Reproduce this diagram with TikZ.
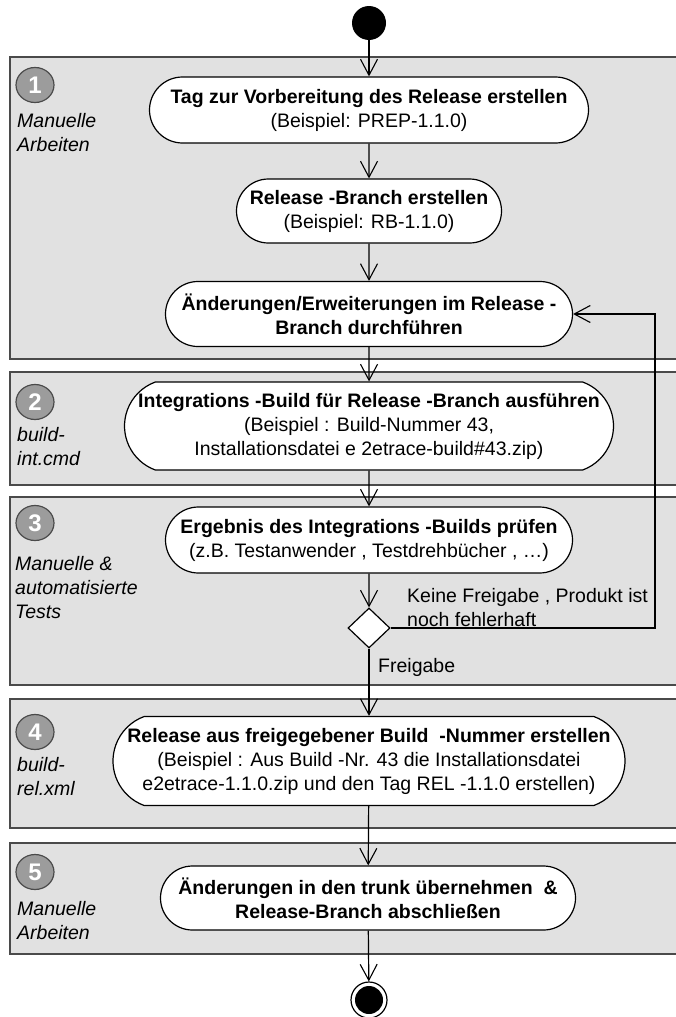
\documentclass[tikz,border=0pt]{standalone}
\usepackage{fontspec}
\setmainfont{Liberation Sans}
\usetikzlibrary{shapes.misc,shapes.geometric,arrows.meta}
\definecolor{lanefill}{HTML}{E1E1E1}
\definecolor{laneline}{HTML}{4A4A4A}
\definecolor{badgefill}{HTML}{9C9C9C}
\newcommand{\fs}{\fontsize{19.5}{24}\selectfont}
\begin{document}
\begin{tikzpicture}[x=1pt,y=-1pt,
  lane/.style={draw=laneline, line width=1.4pt, fill=lanefill},
  act/.style={draw=black, line width=1.2pt, fill=white, shape=rounded rectangle, inner sep=0pt, align=center, font=\fs},
  badge/.style={ellipse, draw=laneline, line width=1.2pt, fill=badgefill, minimum width=38, minimum height=35, inner sep=0pt, text=white, font=\bfseries\fontsize{24}{24}\selectfont},
  lanelabel/.style={anchor=west, align=left, font=\itshape\fs, inner sep=0pt},
  txt/.style={anchor=west, align=left, font=\fs, inner sep=0pt},
  flow/.style={line width=1.2pt, -{Straight Barb[length=16pt,width=17pt,line width=1.1pt]}}]
\useasboundingbox (0,0) rectangle (676,1017);
% lanes
\draw[lane] (10,57) rectangle (690,359);
\draw[lane] (10,372) rectangle (690,485);
\draw[lane] (10,497) rectangle (690,685);
\draw[lane] (10,699) rectangle (690,828);
\draw[lane] (10,843) rectangle (690,954);
% badges
\node[badge] (b1) at (35,85) {1};
\node[badge] (b2) at (35,402) {2};
\node[badge] (b3) at (35,523) {3};
\node[badge] (b4) at (35,732) {4};
\node[badge] (b5) at (35,872) {5};
\node[lanelabel] (l1) at (17,133) {Manuelle\\Arbeiten};
\node[lanelabel] (l2) at (17,447) {build-\\int.cmd};
\node[lanelabel] (l3) at (15,588) {Manuelle \&\\automatisierte\\Tests};
\node[lanelabel] (l4) at (17,777) {build-\\rel.xml};
\node[lanelabel] (l5) at (17,921) {Manuelle\\Arbeiten};
% start / end
\node[circle, fill=black, minimum size=34, inner sep=0pt] (start) at (369,23) {};
\node[circle, draw=black, line width=1.2pt, fill=white, minimum size=36, inner sep=0pt] (endo) at (369,1000) {};
\node[circle, fill=black, minimum size=28, inner sep=0pt] (endi) at (369,1000) {};
% activities
\node[act, minimum width=439, minimum height=66] (n1) at (369,110)
  {\textbf{Tag zur Vorbereitung des Release erstellen}\\(Beispiel: PREP-1.1.0)};
\node[act, minimum width=265, minimum height=64] (n2) at (369,211)
  {\textbf{Release -Branch erstellen}\\(Beispiel: RB-1.1.0)};
\node[act, minimum width=407, minimum height=65] (n3) at (369,314)
  {\textbf{Änderungen/Erweiterungen im Release -}\\\textbf{Branch durchführen}};
\node[act, rounded rectangle arc length=140, minimum width=487, minimum height=88] (n4) at (369,426)
  {\textbf{Integrations -Build für Release -Branch ausführen}\\(Beispiel : Build-Nummer 43,\\Installationsdatei e 2etrace-build\#43.zip)};
\node[act, minimum width=407, minimum height=66] (n5) at (369,540)
  {\textbf{Ergebnis des Integrations -Builds prüfen}\\(z.B. Testanwender , Testdrehbücher , …)};
\node[diamond, draw=black, line width=1.2pt, fill=white, minimum width=42, minimum height=40, inner sep=0pt] (d) at (369,628) {};
\node[act, rounded rectangle arc length=140, minimum width=512, minimum height=89] (n6) at (369,761)
  {\textbf{Release aus freigegebener Build \ -Nummer erstellen}\\(Beispiel : Aus Build -Nr. 43 die Installationsdatei\\e2etrace-1.1.0.zip und den Tag REL -1.1.0 erstellen)};
\node[act, minimum width=415, minimum height=64] (n7) at (368,898)
  {\textbf{Änderungen in den trunk übernehmen \ \&}\\\textbf{Release-Branch abschließen}};
% labels
\node[txt] (k) at (407,608) {Keine Freigabe , Produkt ist\\noch fehlerhaft};
\node[txt] (f) at (378,667) {Freigabe};
% connectors
\draw[flow] (start) -- (n1.north);
\draw[flow] (n1) -- (n2);
\draw[flow] (n2) -- (n3);
\draw[flow] (n3) -- (n4);
\draw[flow] (n4) -- (n5);
\draw[flow] (n5) -- (d.north);
\draw[flow] (d.south) -- (n6.north);
\draw[flow] (n6) -- (n7);
\draw[flow] (n7) -- (endo);
\coordinate (c1) at (655,628);
\coordinate (c2) at (655,314);
\draw[flow] (d.east) -- (c1) -- (c2) -- (n3.east);
\end{tikzpicture}
\end{document}
